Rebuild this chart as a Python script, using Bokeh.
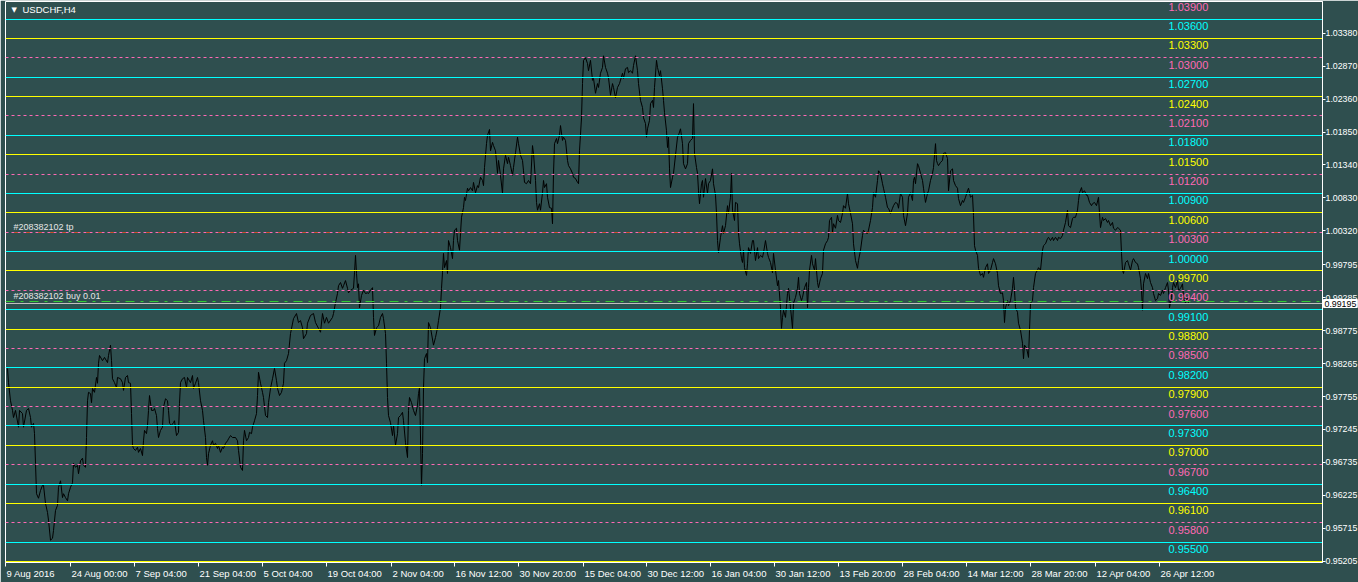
from bokeh.plotting import figure
from bokeh.models import Range1d, FixedTicker, NumeralTickFormatter, Label, CustomLabelingPolicy
from bokeh.core.properties import value
from bokeh.embed import file_html
from bokeh.resources import INLINE

# ---------------- data ----------------
symbol = "USDCHF,H4"

bars = [
    2, 3, 5, 7, 8, 10, 13, 14, 17, 18, 21, 23, 25, 26, 28, 29, 30, 31, 33, 35,
    37, 38, 40, 42, 43, 45, 47, 48, 50, 52, 53, 55, 57, 58, 60, 62, 63, 65, 67, 68,
    70, 72, 73, 75, 77, 78, 80, 81, 82, 83, 85, 86, 87, 89, 91, 92, 93, 94, 97, 99,
    102, 103, 105, 106, 107, 109, 111, 112, 115, 117, 118, 120, 122, 123, 125, 126, 127, 128, 130, 132,
    133, 135, 137, 138, 139, 141, 142, 143, 144, 146, 148, 149, 151, 152, 153, 155, 157, 158, 160, 162,
    163, 164, 166, 168, 169, 171, 173, 174, 175, 177, 179, 181, 182, 185, 187, 188, 190, 192, 193, 195,
    197, 198, 200, 201, 202, 203, 205, 207, 208, 210, 212, 213, 215, 217, 218, 220, 222, 223, 225, 227,
    230, 232, 233, 235, 237, 238, 239, 241, 243, 244, 246, 247, 249, 251, 252, 253, 255, 257, 258, 260,
    262, 263, 265, 267, 269, 271, 272, 274, 276, 278, 279, 281, 283, 285, 288, 291, 293,
    295, 297, 298, 301, 302, 305, 308, 310, 313, 315, 317, 319, 321, 323, 327, 328, 330, 332, 333, 335,
    337, 338, 340, 342, 343, 345, 348, 349, 350, 351, 352, 353, 354, 356, 358, 360, 362, 363, 365, 367,
    368, 369, 371, 373, 375, 377, 378, 380, 381, 382, 383, 385, 387, 388, 390, 392, 393, 395, 397, 398,
    400, 402, 403, 404, 406, 408, 410, 412, 413, 414, 416, 417, 418, 419, 421, 422, 423, 425, 428, 430,
    432, 433, 435, 436, 437, 438, 439, 441, 442, 443, 445, 447, 448, 449, 451, 452, 454, 455, 456, 458,
    459, 460, 462, 463, 465, 467, 468, 470, 472, 473, 475, 477, 478, 479, 481, 482, 484, 485, 487, 488,
    490, 492, 493, 495, 497, 498, 500, 502, 503, 505, 507, 508, 510, 512, 513, 515, 517, 518, 519, 521,
    523, 525, 527, 528, 530, 531, 532, 534, 535, 537, 538, 539, 541, 542, 544, 546, 547, 548, 549, 551,
    552, 554,
    555, 557, 558, 560, 562, 563, 565, 567, 568, 570, 572, 573, 574, 576, 577, 578, 580, 582, 583, 585,
    587, 588, 590, 592, 593, 595, 597, 598, 600, 602, 603, 605, 607, 608, 610, 612, 614, 617, 618, 620,
    622, 623, 625, 627, 628, 630, 632, 633, 635, 637, 638, 640, 641, 642, 644, 645, 647, 648, 649, 651,
    652, 654, 655, 657, 658, 659, 661, 662, 663, 664, 665, 667, 668, 670, 672, 673, 675, 677, 678, 680,
    682, 683, 685, 687, 688, 689, 691, 692, 693, 694, 696, 697, 698, 700, 702, 703, 705, 707, 708, 710,
    711, 712, 713, 715, 717, 718, 720, 722, 723, 725, 726, 727, 729, 730, 732, 733, 734, 736, 737, 738,
    739, 741, 742, 743, 745, 747, 748, 750, 752, 753, 755, 757, 758, 760, 762, 763, 765, 767, 768, 770,
    772, 773, 775, 776, 777, 778, 780, 782, 783, 785, 787, 788, 790, 792, 793, 794, 796, 797, 799, 801,
    802, 803, 804, 806, 807, 809, 810, 812, 813, 815, 817, 818, 820, 822, 823, 824, 826, 827, 828, 830,
    832, 833, 835, 837, 838, 840, 842, 843, 845, 847, 848, 850, 852, 853, 855, 857, 858, 860, 862, 863,
    865, 867, 868, 870, 872, 873, 875, 877, 878, 880, 882, 883, 885, 887, 888, 890, 892, 893, 895,
    897, 898, 900, 902, 903, 905, 907, 908, 909, 910, 912, 913, 915, 917, 918, 920, 922, 923, 925, 927,
    928, 930, 931, 932, 933, 935, 937, 938, 940, 942, 943, 945, 947, 948, 950, 952, 953, 955, 957, 958,
    960, 962, 963, 965, 967, 968, 969, 970, 972, 973, 975, 977, 978, 980, 982, 983, 985, 987, 988, 990,
    992, 993, 995, 997, 998, 999, 1000, 1002, 1003, 1005, 1007, 1008, 1009, 1010, 1012, 1013, 1015, 1017, 1018, 1019,
    1021, 1023, 1024, 1025, 1027, 1028, 1030, 1032, 1033, 1035, 1037, 1038, 1040, 1042, 1043, 1045, 1047, 1048, 1050, 1052,
    1053, 1055, 1057, 1058, 1060, 1062, 1063, 1065, 1067, 1068, 1070, 1072, 1073, 1074, 1076, 1077, 1079, 1081, 1082, 1084,
    1086, 1087, 1089, 1091, 1093, 1094, 1095, 1097, 1098, 1100, 1102, 1103, 1105, 1107, 1108, 1110, 1112, 1113, 1115, 1116,
    1117, 1118, 1120, 1122, 1123, 1125, 1127, 1128, 1130, 1132, 1133, 1135, 1136, 1137, 1138, 1140, 1142, 1143, 1145, 1147,
    1148, 1150, 1152, 1153, 1155, 1157, 1158, 1160, 1162, 1163, 1164, 1166, 1167, 1168, 1170, 1172, 1173, 1175, 1177, 1178,
    1180, 1182, 1183,
]

closes = [
    0.9819, 0.9797, 0.9769, 0.9754, 0.9743, 0.9754, 0.9728, 0.9754, 0.9749, 0.9728,
    0.9754, 0.9757, 0.9743, 0.9728, 0.9734, 0.9718, 0.9672, 0.9625, 0.9618, 0.9630,
    0.9638, 0.9638, 0.9610, 0.9596, 0.9584, 0.9553, 0.9556, 0.9568, 0.9599, 0.9607,
    0.9635, 0.9645, 0.9619, 0.9625, 0.9619, 0.9614, 0.9625, 0.9635, 0.9642, 0.9672,
    0.9666, 0.9669, 0.9656, 0.9676, 0.9680, 0.9669, 0.9666, 0.9712, 0.9769, 0.9782,
    0.9780, 0.9766, 0.9788, 0.9782, 0.9805, 0.9796, 0.9827, 0.9839, 0.9831, 0.9836,
    0.9828, 0.9839, 0.9855, 0.9831, 0.9803, 0.9797, 0.9789, 0.9805, 0.9803, 0.9797,
    0.9785, 0.9805, 0.9808, 0.9797, 0.9796, 0.9749, 0.9700, 0.9695, 0.9692, 0.9697,
    0.9689, 0.9695, 0.9684, 0.9707, 0.9723, 0.9718, 0.9731, 0.9754, 0.9777, 0.9754,
    0.9754, 0.9757, 0.9746, 0.9726, 0.9712, 0.9723, 0.9728, 0.9759, 0.9772, 0.9769,
    0.9754, 0.9734, 0.9731, 0.9735, 0.9738, 0.9715, 0.9720, 0.9765, 0.9797, 0.9803,
    0.9805, 0.9789, 0.9805, 0.9797, 0.9808, 0.9788, 0.9796, 0.9805, 0.9797, 0.9769,
    0.9754, 0.9738, 0.9712, 0.9681, 0.9669, 0.9687, 0.9700, 0.9707, 0.9700, 0.9703,
    0.9695, 0.9700, 0.9689, 0.9697, 0.9695, 0.9703, 0.9707, 0.9710, 0.9715, 0.9712,
    0.9712, 0.9707, 0.9692, 0.9666, 0.9661, 0.9707, 0.9723, 0.9707, 0.9712, 0.9720,
    0.9718, 0.9728, 0.9738, 0.9749, 0.9777, 0.9813, 0.9796, 0.9782, 0.9774, 0.9746,
    0.9743, 0.9766, 0.9788, 0.9803, 0.9819, 0.9800, 0.9788, 0.9777, 0.9782, 0.9796,
    0.9827, 0.9831, 0.9842, 0.9873, 0.9896, 0.9904, 0.9890,
    0.9893, 0.9882, 0.9865, 0.9873, 0.9889, 0.9901, 0.9904, 0.9890, 0.9881, 0.9875,
    0.9904, 0.9889, 0.9898, 0.9889, 0.9898, 0.9904, 0.9921, 0.9935, 0.9947, 0.9952,
    0.9943, 0.9947, 0.9955, 0.9943, 0.9936, 0.9940, 0.9943, 0.9967, 0.9994, 0.9966,
    0.9944, 0.9950, 0.9913, 0.9932, 0.9940, 0.9935, 0.9936, 0.9935, 0.9940, 0.9944,
    0.9898, 0.9870, 0.9882, 0.9885, 0.9898, 0.9904, 0.9896, 0.9873, 0.9827, 0.9774,
    0.9746, 0.9735, 0.9715, 0.9731, 0.9700, 0.9718, 0.9743, 0.9746, 0.9751, 0.9738,
    0.9704, 0.9681, 0.9754, 0.9774, 0.9766, 0.9754, 0.9746, 0.9762, 0.9780, 0.9789,
    0.9638, 0.9687, 0.9789, 0.9834, 0.9842, 0.9828, 0.9890, 0.9882, 0.9855, 0.9867,
    0.9882, 0.9893, 0.9913, 0.9943, 0.9967, 0.9997, 0.9975, 0.9986, 0.9966, 1.0017,
    1.0006, 0.9989, 1.0017, 1.0033, 1.0036, 1.0017, 1.0002, 1.0028, 1.0053, 1.0068,
    1.0084, 1.0079, 1.0098, 1.0094, 1.0099, 1.0094, 1.0107, 1.0091, 1.0102, 1.0099,
    1.0115, 1.0110, 1.0102, 1.0130, 1.0167, 1.0180, 1.0189, 1.0156, 1.0169, 1.0164,
    1.0156, 1.0121, 1.0141, 1.0118, 1.0090, 1.0128, 1.0149, 1.0136, 1.0146, 1.0133,
    1.0118, 1.0130, 1.0153, 1.0177, 1.0167, 1.0149, 1.0141, 1.0125, 1.0107, 1.0105,
    1.0110, 1.0105, 1.0164, 1.0152, 1.0110, 1.0076, 1.0064, 1.0074, 1.0064, 1.0091,
    1.0110, 1.0099, 1.0105, 1.0084, 1.0068, 1.0067, 1.0043, 1.0121, 1.0167, 1.0175,
    1.0167, 1.0180,
    1.0195, 1.0172, 1.0177, 1.0172, 1.0141, 1.0133, 1.0128, 1.0121, 1.0115, 1.0113,
    1.0107, 1.0105, 1.0156, 1.0207, 1.0260, 1.0296, 1.0300, 1.0291, 1.0280, 1.0296,
    1.0265, 1.0268, 1.0245, 1.0260, 1.0254, 1.0276, 1.0285, 1.0303, 1.0285, 1.0276,
    1.0269, 1.0242, 1.0260, 1.0254, 1.0238, 1.0254, 1.0260, 1.0276, 1.0268, 1.0283,
    1.0285, 1.0277, 1.0280, 1.0276, 1.0288, 1.0303, 1.0280, 1.0260, 1.0234, 1.0223,
    1.0207, 1.0198, 1.0177, 1.0190, 1.0203, 1.0229, 1.0234, 1.0223, 1.0254, 1.0296,
    1.0285, 1.0272, 1.0280, 1.0252, 1.0234, 1.0215, 1.0187, 1.0161, 1.0177, 1.0128,
    1.0099, 1.0115, 1.0121, 1.0149, 1.0177, 1.0180, 1.0190, 1.0167, 1.0136, 1.0128,
    1.0136, 1.0167, 1.0172, 1.0175, 1.0229, 1.0152, 1.0130, 1.0121, 1.0094, 1.0074,
    1.0105, 1.0110, 1.0084, 1.0113, 1.0090, 1.0105, 1.0110, 1.0128, 1.0105, 1.0087,
    1.0059, 1.0017, 0.9998, 1.0022, 1.0040, 1.0028, 1.0040, 1.0071, 1.0059, 1.0084,
    1.0121, 1.0064, 1.0048, 1.0076, 1.0074, 1.0029, 1.0012, 0.9989, 0.9983, 1.0002,
    0.9975, 0.9963, 0.9981, 1.0006, 0.9997, 1.0017, 1.0017, 0.9986, 1.0006, 0.9989,
    0.9994, 0.9991, 0.9998, 1.0017, 0.9997, 0.9991, 0.9983, 0.9967, 0.9997, 0.9971,
    0.9947, 0.9955, 0.9913, 0.9881, 0.9898, 0.9909, 0.9898, 0.9935, 0.9943, 0.9913,
    0.9881, 0.9920, 0.9929, 0.9943, 0.9960, 0.9935, 0.9924, 0.9929, 0.9944, 0.9952,
    0.9913, 0.9944, 0.9971, 0.9994, 0.9981, 0.9971, 0.9989, 0.9952, 0.9944, 0.9958,
    0.9966, 1.0002, 1.0012, 1.0017, 1.0022, 1.0048, 1.0053, 1.0029, 1.0043, 1.0036,
    1.0056, 1.0048, 1.0045, 1.0059, 1.0071, 1.0067, 1.0090, 1.0074, 1.0059, 1.0043,
    1.0012, 0.9986, 0.9974, 0.9986, 1.0002, 1.0025, 1.0033, 1.0029, 1.0028, 1.0033,
    1.0048, 1.0068, 1.0091, 1.0084, 1.0110, 1.0125, 1.0121, 1.0105, 1.0098, 1.0084,
    1.0068, 1.0067, 1.0059, 1.0067, 1.0071, 1.0076, 1.0074, 1.0067, 1.0090,
    1.0084, 1.0056, 1.0040, 1.0059, 1.0084, 1.0091, 1.0079, 1.0110, 1.0115, 1.0105,
    1.0136, 1.0133, 1.0121, 1.0110, 1.0098, 1.0076, 1.0090, 1.0094, 1.0110, 1.0121,
    1.0130, 1.0167, 1.0141, 1.0136, 1.0133, 1.0138, 1.0141, 1.0152, 1.0153, 1.0144,
    1.0094, 1.0125, 1.0128, 1.0110, 1.0102, 1.0098, 1.0082, 1.0071, 1.0079, 1.0076,
    1.0084, 1.0094, 1.0098, 1.0084, 1.0087, 1.0056, 1.0009, 1.0002, 0.9994, 0.9974,
    0.9963, 0.9966, 0.9960, 0.9975, 0.9981, 0.9966, 0.9971, 0.9983, 0.9989, 0.9981,
    0.9966, 0.9947, 0.9935, 0.9936, 0.9924, 0.9890, 0.9913, 0.9924, 0.9916, 0.9924,
    0.9943, 0.9960, 0.9940, 0.9913, 0.9906, 0.9889, 0.9878, 0.9858, 0.9834, 0.9855,
    0.9851, 0.9836, 0.9878, 0.9920, 0.9924, 0.9944, 0.9966, 0.9971, 0.9975, 0.9971,
    1.0002, 1.0009, 1.0012, 1.0020, 1.0022, 1.0017, 1.0022, 1.0017, 1.0022, 1.0017,
    1.0022, 1.0020, 1.0025, 1.0033, 1.0045, 1.0064, 1.0040, 1.0037, 1.0051, 1.0053,
    1.0053, 1.0064, 1.0079, 1.0091, 1.0099, 1.0091, 1.0094, 1.0087, 1.0087, 1.0076,
    1.0071, 1.0074, 1.0076, 1.0071, 1.0084, 1.0059, 1.0037, 1.0053, 1.0048, 1.0051,
    1.0045, 1.0048, 1.0040, 1.0045, 1.0036, 1.0033, 1.0037, 1.0036, 1.0033, 0.9997,
    0.9971, 0.9966, 0.9983, 0.9986, 0.9981, 0.9971, 0.9986, 0.9989, 0.9983, 0.9981,
    0.9975, 0.9958, 0.9940, 0.9909, 0.9950, 0.9966, 0.9958, 0.9966, 0.9952, 0.9944,
    0.9935, 0.9924, 0.9927, 0.9935, 0.9932, 0.9940, 0.9935, 0.9944, 0.9952, 0.9940,
    0.9913, 0.9929, 0.9944, 0.9952, 0.9944, 0.9955, 0.9940, 0.9943, 0.9950, 0.9929,
    0.9920, 0.9929, 0.99195,
]

date_ticks = [0, 65, 129, 193, 257, 321, 386, 449, 513, 578, 641, 705, 769, 833, 897, 961, 1025, 1090, 1154]
date_labels = ["9 Aug 2016", "24 Aug 00:00", "7 Sep 04:00", "21 Sep 04:00", "5 Oct 04:00",
               "19 Oct 04:00", "2 Nov 04:00", "16 Nov 12:00", "30 Nov 20:00", "15 Dec 04:00",
               "30 Dec 12:00", "16 Jan 04:00", "30 Jan 12:00", "13 Feb 20:00", "28 Feb 04:00",
               "14 Mar 12:00", "28 Mar 20:00", "12 Apr 04:00", "26 Apr 12:00"]
price_ticks = [1.03380, 1.02870, 1.02360, 1.01850, 1.01340, 1.00830, 1.00320, 0.99795, 0.99285,
               0.98775, 0.98265, 0.97755, 0.97245, 0.96735, 0.96225, 0.95715, 0.95205]

levels_cyan = [1.036, 1.027, 1.018, 1.009, 1.000, 0.991, 0.982, 0.973, 0.964, 0.955]
levels_yellow = [1.033, 1.024, 1.015, 1.006, 0.997, 0.988, 0.979, 0.970, 0.961, 0.952]
levels_pink = [1.039, 1.030, 1.021, 1.012, 1.003, 0.994, 0.985, 0.976, 0.967, 0.958]

order_id = "#208382102"
tp_price = 1.003
open_price = 0.9922
lots = 0.01
bid = 0.99195

# ---------------- style ----------------
BG = "#2F4F4F"
CYAN = "#00FFFF"
YELLOW = "#FFFF00"
PINK = "#FF69B4"
FONT = value("Liberation Sans")
AXIS_FS = "8.8px"
n = min(len(bars), len(closes))
Y0, Y1 = 0.95185, 1.03871

p = figure(frame_width=1317, frame_height=561,
           x_range=Range1d(0, 1317), y_range=Range1d(Y0, Y1),
           y_axis_location="right", output_backend="svg", toolbar_location=None,
           min_border_left=5, min_border_top=1, min_border_bottom=20, min_border_right=0,
           background_fill_color=BG, border_fill_color=BG,
           outline_line_color="white", outline_line_width=1)
p.grid.visible = False

for ax in (p.xaxis[0], p.yaxis[0]):
    ax.axis_line_color = "white"
    ax.major_tick_line_color = "white"
    ax.minor_tick_line_color = None
    ax.major_tick_in = 0
    ax.major_label_text_color = "white"
    ax.major_label_text_font = "Liberation Sans"
    ax.major_label_text_font_size = AXIS_FS

# date axis: tick marks from the axis; its own centred labels are filtered out and
# the dates are drawn left-aligned at each tick, as in the terminal
p.xaxis.ticker = FixedTicker(ticks=date_ticks)
p.xaxis.major_tick_out = 4
p.xaxis.major_label_standoff = 0
p.xaxis.major_label_policy = CustomLabelingPolicy(code="""
    try { for (let i = 0; i < indices.size; i++) { indices.unset(i) } } catch (e) {}
    return indices
""")

p.yaxis.ticker = FixedTicker(ticks=price_ticks)
p.yaxis.formatter = NumeralTickFormatter(format="0.00000")
p.yaxis.major_tick_out = 3
p.yaxis.major_label_standoff = 0

# price line
p.line(bars[:n], closes[:n], line_color="black", line_width=1)

# horizontal levels
p.hspan(y=levels_pink, line_color=PINK, line_width=1, line_dash="3 3")
p.hspan(y=[tp_price], line_color="#D2501E", line_width=1, line_dash="3 9", line_dash_offset=3)
p.hspan(y=levels_yellow, line_color=YELLOW, line_width=1)
p.hspan(y=levels_cyan, line_color=CYAN, line_width=1)
p.hspan(y=[bid], line_color="#C0C0C0", line_width=1)
p.hspan(y=[open_price], line_color="#32CD32", line_width=1, line_dash="9 6 3 6")

# level labels
LABEL_X = 1163
for lv, col in ((levels_cyan, CYAN), (levels_yellow, YELLOW), (levels_pink, PINK)):
    p.text(x=[LABEL_X] * len(lv), y=lv, text=[f"{v:.5f}" for v in lv],
           text_color=col, text_font=FONT, text_font_size=value("11px"),
           text_baseline="middle", text_align="left", y_offset=7)

# order labels
p.text(x=[8, 8], y=[tp_price, open_price],
       text=[f"{order_id} tp", f"{order_id} buy {lots:.2f}"],
       text_color="#E6E6E6", text_font=FONT, text_font_size=value("9px"),
       text_baseline="middle", text_align="left", y_offset=-5.5)

# symbol title
p.text(x=[17], y=[Y1], text=[symbol], text_color="white", text_font=FONT,
       text_font_size=value("9.5px"), text_baseline="middle", text_align="left", y_offset=8)
p.text(x=[6], y=[Y1], text=["\u25BC"], text_color="white", text_font=value("DejaVu Sans"),
       text_font_size=value("7px"), text_baseline="middle", text_align="left", y_offset=8)

# date labels, left-aligned at their ticks, in the bottom panel
for t, s in zip(date_ticks, date_labels):
    p.add_layout(Label(x=t, y=Y0, text=s, text_color="white",
                       text_font="Liberation Sans", text_font_size="9.5px",
                       text_baseline="top", text_align="left",
                       x_offset=1, y_offset=-5), "below")

# current bid marker on the price axis (placed in the side panel so it is not clipped)
p.add_layout(Label(x=1318, y=bid, text=f"{bid:.5f}", text_color="black",
                   text_font="Liberation Sans", text_font_size=AXIS_FS,
                   text_baseline="middle", text_align="left",
                   background_fill_color="white", border_line_color="white",
                   padding=1), "right")

open("out.html", "w").write(file_html(p, INLINE))
